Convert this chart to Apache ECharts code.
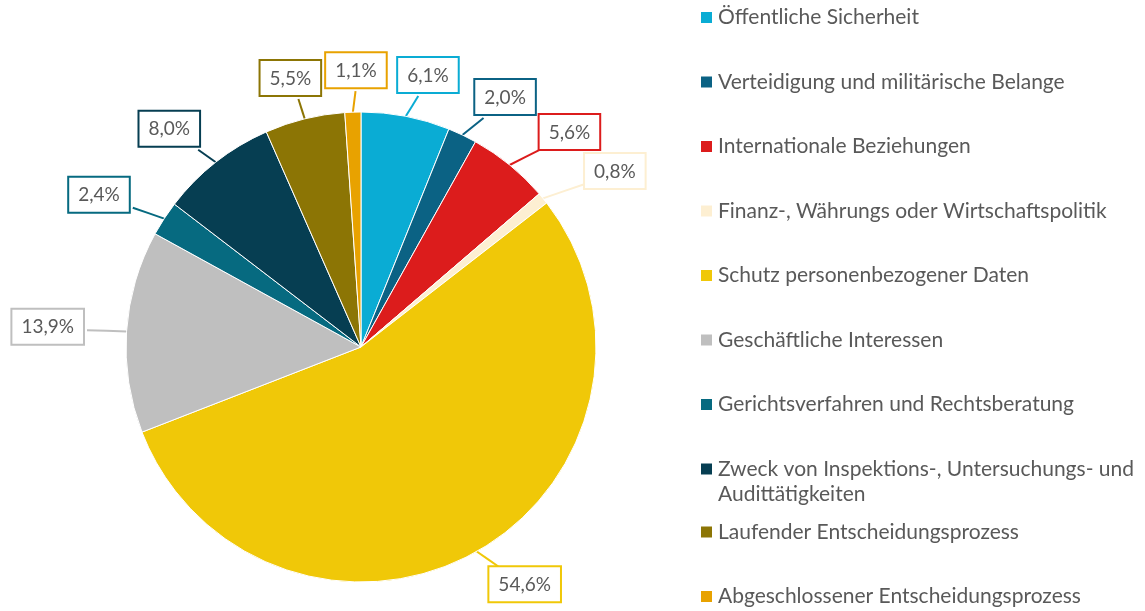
<!DOCTYPE html>
<html>
<head>
    <meta http-equiv="Content-Type" content="text/html; charset=utf-8">
    <title>Ausnahmegründe</title>
    <script src="https://cdn.jsdelivr.net/npm/echarts@6/dist/echarts.min.js"></script>
    <style>
        html, body {margin:0; padding:0; background:#fff;}
    </style>
</head>
<body>
    <div id="main" style="width: 1145px;height:611px;"></div>
    <script type="text/javascript">
        // Kategorien und Anteile (%)
        var categories = [
            'Öffentliche Sicherheit',
            'Verteidigung und militärische Belange',
            'Internationale Beziehungen',
            'Finanz-, Währungs oder Wirtschaftspolitik',
            'Schutz personenbezogener Daten',
            'Geschäftliche Interessen',
            'Gerichtsverfahren und Rechtsberatung',
            'Zweck von Inspektions-, Untersuchungs- und\nAudittätigkeiten',
            'Laufender Entscheidungsprozess',
            'Abgeschlossener Entscheidungsprozess'
        ];
        var shares = [6.1, 2.0, 5.6, 0.8, 54.6, 13.9, 2.4, 8.0, 5.5, 1.1];
        var colors = ['#0aacd4', '#0b6284', '#dc1c1c', '#fdefd2', '#f0c808',
                      '#bfbfbf', '#066a80', '#063e52', '#8c7505', '#e8a200'];

        var myChart = echarts.init(document.getElementById('main'));

        var pieData = categories.map(function (c, i) {
            return {
                name: c,
                value: shares[i],
                itemStyle: {color: colors[i]},
                label: {borderColor: colors[i]}
            };
        });

        // Beschriftungen auf einer Ellipse um den Kreis, Linie zum Kastenrand
        var RX = 320, RY = 275, SHIFT_X = 8;
        function placeLabel(p) {
            var pts = p.labelLinePoints;
            if (!pts) return {};
            var p0 = pts[0], p1 = pts[1];
            var dx = p1[0] - p0[0], dy = p1[1] - p0[1];
            var len = Math.sqrt(dx * dx + dy * dy) || 1;
            dx /= len; dy /= len;
            var cx = p0[0] - dx * 235, cy = p0[1] - dy * 235;
            var lx = cx + SHIFT_X + dx * RX, ly = cy + dy * RY;
            var hw = p.labelRect.width / 2, hh = p.labelRect.height / 2;
            var vx = p0[0] - lx, vy = p0[1] - ly;
            var t = Math.min(hw / (Math.abs(vx) || 1e-6), hh / (Math.abs(vy) || 1e-6));
            var ex = lx + vx * t, ey = ly + vy * t;
            return {
                x: lx - hw,
                y: ly - hh,
                align: 'left',
                verticalAlign: 'top',
                hideOverlap: false,
                labelLinePoints: [p0, [(p0[0] + ex) / 2, (p0[1] + ey) / 2], [ex, ey]]
            };
        }

        var legendText = {fontSize: 21, color: '#595959', lineHeight: 25, fontFamily: 'Lato'};
        function legendBase(names, top) {
            return {
                orient: 'vertical',
                left: 699,
                top: top,
                padding: 0,
                itemWidth: 13,
                itemHeight: 13,
                itemGap: 39.5,
                icon: 'rect',
                data: names,
                textStyle: legendText,
                // zweizeiliger Eintrag: erste Zeile auf Höhe des Symbols
                formatter: function (name) {
                    return name.indexOf('\n') >= 0 ? '\n' + name : name;
                }
            };
        }

        var option = {
            animation: false,
            textStyle: {fontFamily: 'Lato'},
            legend: [
                legendBase(categories.slice(0, 7), 5),
                legendBase(categories.slice(7, 8), 431.5),
                legendBase(categories.slice(8), 519.5)
            ],
            series: [{
                type: 'pie',
                center: [361, 347],
                radius: 235,
                startAngle: 90,
                clockwise: true,
                avoidLabelOverlap: false,
                itemStyle: {borderColor: '#fff', borderWidth: 1},
                label: {
                    show: true,
                    position: 'outside',
                    formatter: function (p) {
                        return p.value.toFixed(1).replace('.', ',') + '%';
                    },
                    fontSize: 19,
                    fontFamily: 'Lato',
                    color: '#595959',
                    backgroundColor: '#fff',
                    borderWidth: 2,
                    padding: [8, 9, 7, 9]
                },
                labelLine: {
                    show: true,
                    length: 14,
                    length2: 8,
                    lineStyle: {width: 2}
                },
                labelLayout: placeLabel,
                data: pieData
            }]
        };

        myChart.setOption(option);
    </script>
</body>
</html>
